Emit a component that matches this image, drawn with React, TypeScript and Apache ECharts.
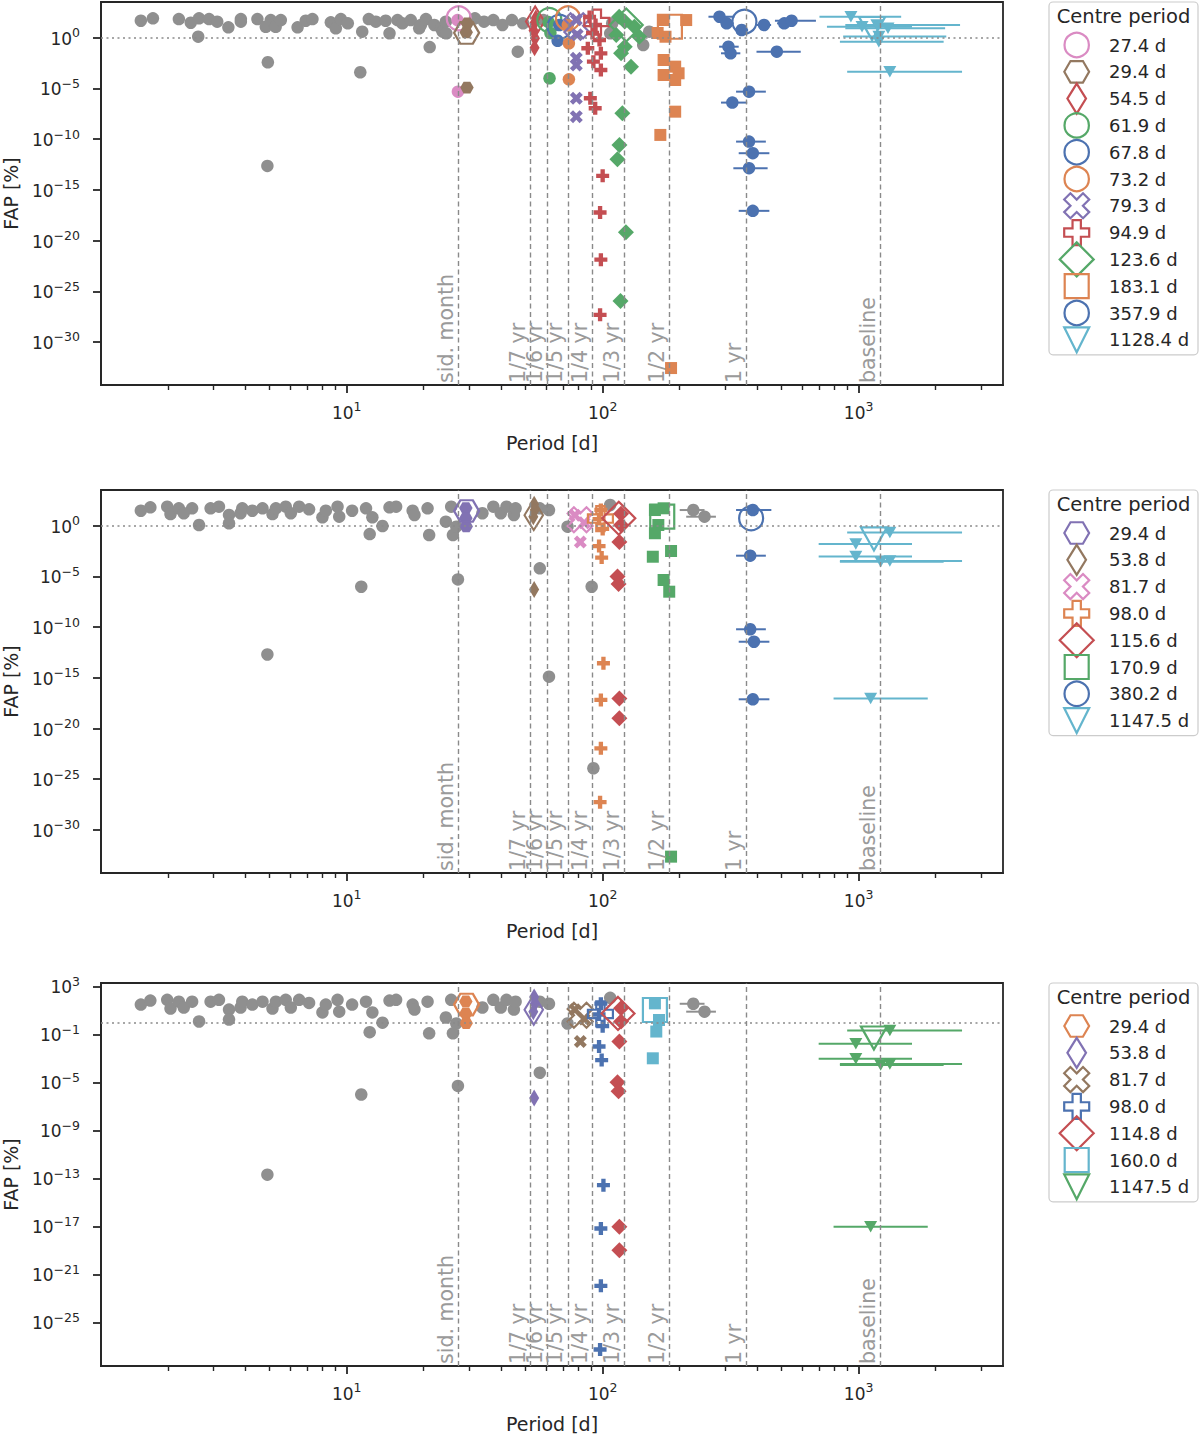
import React, { useEffect, useRef } from 'react';
import * as echarts from 'echarts';

const FONT = '"DejaVu Sans", "Liberation Sans", sans-serif';
const INK = '#262626';
const GREY = '#8f8f8f';
const C = {
  blue: '#4C72B0', orange: '#DD8452', green: '#55A868', red: '#C44E52',
  purple: '#8172B3', brown: '#937860', pink: '#DA8BC3', cyan: '#64B5CD',
};

// ---------------- axes ----------------
const X_MIN = 1.097;
const X_MAX = 3664;
const X_MAJOR = [10, 100, 1000];
const X_MINOR = [2, 3, 4, 5, 6, 7, 8, 9, 20, 30, 40, 50, 60, 70, 80, 90, 200, 300, 400, 500, 600, 700, 800, 900, 2000, 3000];
const Y_MIN = [Math.pow(10, -34.24), Math.pow(10, -34.25), Math.pow(10, -28.64)];
const Y_MAX = [Math.pow(10, 3.52), Math.pow(10, 3.52), Math.pow(10, 3.275)];
const Y_TICKS_A = [1, 1e-5, 1e-10, 1e-15, 1e-20, 1e-25, 1e-30];
const Y_TICKS_B = [1e3, 1e-1, 1e-5, 1e-9, 1e-13, 1e-17, 1e-21, 1e-25];

const VLINE_PERIODS = [27.32, 52.18, 60.88, 73.05, 91.31, 121.75, 182.63, 365.25, 1220];
const VLINE_LABELS = ['sid. month', '1/7 yr', '1/6 yr', '1/5 yr', '1/4 yr', '1/3 yr', '1/2 yr', '1 yr', 'baseline'];
const FAP_REF = 1;

// ---------------- panel 1 data ----------------
const GREY_P1 = [
  [1.57, 47], [1.75, 81], [2.21, 69], [2.46, 30], [2.65, 81], [2.90, 69], [3.12, 38], [3.45, 10.5],
  [3.86, 69], [3.86, 38], [4.48, 69], [4.83, 12], [5.05, 55], [5.28, 12], [5.53, 55], [6.43, 10.5],
  [6.92, 47], [7.35, 69], [8.67, 33], [9.07, 8.5], [9.49, 69], [10.1, 26], [11.5, 3.9], [12.2, 69],
  [13.0, 38], [14.2, 47], [14.7, 2.7], [15.8, 55], [16.5, 26], [17.8, 55], [19.2, 8.5], [19.5, 18],
  [20.4, 69], [22.0, 18], [23.4, 8.5], [23.7, 3.9], [24.4, 38], [24.5, 2.7], [31.7, 81], [34.4, 38],
  [37.4, 55], [40.6, 18], [44.2, 55], [48.9, 26], [58.7, 55], [107, 2.7], [109, 26], [144, 0.19],
  [152, 3.9], [2.63, 1.26], [4.92, 0.0038], [11.3, 3.9e-4], [4.9, 2.3e-13], [21.1, 0.12], [46.6, 0.042],
];
const P1_PERIODS = [27.4, 29.4, 54.5, 61.9, 67.8, 73.2, 79.3, 94.9, 123.6, 183.1, 357.9, 1128.4];
const P1_CENTRE_FAP = [81, 3.0, 40, 55, 12, 81, 15, 35, 18, 12, 38, 8];
const P1_PINK = [[27.1, 55], [27.2, 4.8e-6]];
const P1_BROWN = [[29.3, 3.4], [29.6, 26], [29.5, 1.2e-5]];
const P1_RED_THIN = [[54.8, 90], [54.2, 30], [53.7, 5], [54.4, 0.9], [54.2, 0.1]];
const P1_GREEN_CIRC = [[61.5, 35], [62.5, 2.9], [62.0, 1.0e-4]];
const P1_BLUE_CIRC = [[66.7, 0.5], [67.7, 18]];
const P1_ORANGE_CIRC = [[73.1, 18], [73.8, 0.28], [73.8, 7.9e-5]];
const P1_PURPLE_X = [[78.9, 60], [79.5, 2], [78.9, 9.3e-3], [78.9, 2.0e-3], [78.9, 1.07e-6], [78.9, 1.65e-8]];
const P1_RED_PLUS = [
  [88.9, 110], [93.8, 18], [91.3, 2.9], [97.2, 0.59], [87.5, 0.091], [98.4, 0.029], [92.0, 4.3e-3],
  [98.4, 6.6e-4], [89.5, 1.07e-6], [93.5, 1.1e-7], [100, 2.4e-14], [97.7, 5.8e-18], [98.4, 1.3e-22], [97.7, 4.8e-28],
];
const P1_GREEN_DIAM = [
  [116, 117], [133, 12], [122, 40], [113, 1.8], [139, 1.26], [122, 0.13], [118, 0.029], [129, 1.4e-3],
  [119.4, 3.6e-8], [116.3, 2.7e-11], [114.2, 1.05e-12], [123.3, 6.7e-20], [117.4, 1.1e-26],
];
const P1_ORANGE_SQ = [
  [173, 55], [212, 55], [164, 2.9], [176, 1.25], [173, 6.3e-3], [192, 1.4e-3], [198, 3.1e-4], [173, 2.1e-4],
  [192, 6.8e-5], [192, 5.1e-8], [168, 2.6e-10], [185, 2.7e-33],
];
// [period, FAP, period low, period high]
const P1_BLUE_BARS = [
  [286, 117, 259, 327], [305, 26, 290, 325], [349, 5.7, 330, 370], [427, 18, 400, 455], [512, 26, 480, 545],
  [547, 47, 471, 681], [310, 0.13, 285, 340], [316, 0.029, 290, 345], [479, 0.042, 399, 594],
  [373, 4.8e-6, 332, 434], [321, 4.0e-7, 290, 367], [373, 5.7e-11, 332, 434], [386, 4.1e-12, 340, 448],
  [373, 1.36e-13, 324, 441], [386, 8.5e-18, 340, 448],
];
const P1_CYAN_BARS = [
  [933, 117, 703, 1466], [1031, 12, 752, 1616], [1178, 18, 887, 2490], [1302, 8.5, 887, 2177],
  [1200, 1.3, 870, 2200], [1199, 0.40, 845, 2148], [1324, 4.5e-4, 902, 2535],
];

// ---------------- panels 2 & 3 data ----------------
const GREY_P23 = [
  [1.57, 30], [1.71, 65], [1.99, 75], [2.05, 14], [2.21, 52], [2.31, 17], [2.49, 52], [2.65, 1.17],
  [2.94, 52], [3.17, 75], [3.47, 11.4], [3.47, 1.7], [3.85, 17], [3.91, 52], [4.28, 30], [4.69, 52],
  [5.13, 14], [5.29, 52], [5.78, 75], [6.05, 17], [6.52, 75], [7.13, 41], [8.04, 6.7], [8.29, 30],
  [9.21, 75], [9.35, 7.7], [10.5, 30], [11.9, 52], [12.6, 6.7], [13.8, 0.93], [12.3, 0.15], [11.4, 9.6e-7],
  [14.7, 65], [15.6, 75], [18.1, 30], [18.4, 11.4], [20.7, 52], [21.0, 0.12], [24.4, 2.5], [25.6, 75],
  [26.0, 0.12], [26.8, 0.80], [27.2, 5e-6], [33.9, 17], [37.4, 75], [40.0, 17], [42.1, 75], [45.0, 11.4],
  [45.7, 52], [56.8, 6.3e-5], [56.8, 52], [61.7, 35], [72.9, 0.80], [107, 110], [4.9, 2e-13],
];
const GREY_BARS_P23 = [[226, 35, 200, 250], [250, 7.7, 212, 277]];
const GREY_P2_EXTRA = [[61.7, 1.3e-15], [90.6, 9.6e-7], [92.0, 1.2e-24]];

const HEX_29 = [[29.2, 55], [29.2, 5.5], [29.3, 0.85]];
const THIN_54 = [[54.0, 130], [54.3, 36], [53.6, 7.7], [54.0, 5e-7]];
const X_82 = [[77.9, 11], [84.7, 1.9], [81.8, 0.025]];
const PLUS_98 = [
  [98.4, 36], [96.8, 4.5], [100, 0.48], [96.8, 9.7e-3], [99.1, 7.1e-4], [100.7, 2.7e-14],
  [98.4, 6.6e-18], [98.4, 1.1e-22], [97.7, 5.4e-28],
];
const DIAM_115 = [[118, 15], [118, 1.17], [116.2, 0.025], [114.3, 1.0e-5], [115.4, 1.8e-6], [116.2, 9e-18], [116.2, 1e-19]];
const SQ_171 = [[160, 35], [173, 52], [165, 1.17], [160, 0.18], [157, 8.7e-4], [185, 3.2e-3], [173, 4.4e-6], [182, 3.1e-7], [185, 2.3e-33]];
const SQ_160 = [[160, 38], [166, 1.55], [162, 0.17], [157, 1.0e-3]];
const CIRC_380_BARS = [[386, 35, 332, 456], [377, 1.1e-3, 332, 434], [377, 6.1e-11, 332, 434], [390, 3.6e-12, 340, 448], [386, 7.6e-18, 340, 448]];
const TRI_1147_BARS = [
  [1324, 0.21, 902, 2535], [975, 0.016, 698, 1616], [975, 9e-4, 698, 1616],
  [1219, 2.8e-4, 845, 2148], [1324, 3.3e-4, 845, 2535], [1114, 9e-18, 798, 1862],
];
const P2_PERIODS = [29.4, 53.8, 81.7, 98.0, 115.6, 170.9, 380.2, 1147.5];
const P2_CENTRE_FAP = [28, 11, 3.9, 5, 5.5, 7.7, 5.4, 0.05];
const P3_PERIODS = [29.4, 53.8, 81.7, 98.0, 114.8, 160.0, 1147.5];
const P3_CENTRE_FAP = [30, 11, 3.9, 5, 5.5, 10.6, 0.05];

// ---------------- marker shapes ----------------
const X_PATH = 'path://M1.474 0.059L1.941 0.526L1.467 1L1.941 1.474L1.474 1.941L1 1.467L0.526 1.941L0.059 1.474L0.533 1L0.059 0.526L0.526 0.059L1 0.533Z';
const SHAPES: any = {
  circle: { symbol: 'circle', small: 12.5, big: 24 },
  hexagon: { symbol: 'path://M0 0.866L0.5 0L1.5 0L2 0.866L1.5 1.732L0.5 1.732Z', small: [13.5, 11.7], big: [25, 21.6] },
  thin: { symbol: 'diamond', small: [10, 17], big: [18.5, 30] },
  cross: { symbol: X_PATH, small: 13, big: 25 },
  plus: { symbol: 'path://M1 0L2 0L2 1L3 1L3 2L2 2L2 3L1 3L1 2L0 2L0 1L1 1Z', small: 13, big: 25 },
  diamond: { symbol: 'diamond', small: 16, big: 33 },
  square: { symbol: 'rect', small: 12, big: 24 },
  tri: { symbol: 'triangle', small: [13, 11.5], big: [26, 23], rotate: 180 },
};
const UNIT: any = {
  hexagon: { pts: [[-1, 0], [-0.5, -0.866], [0.5, -0.866], [1, 0], [0.5, 0.866], [-0.5, 0.866]], s: [12.4, 12.4] },
  thin: { pts: [[0, -1], [1, 0], [0, 1], [-1, 0]], s: [9.3, 15] },
  diamond: { pts: [[0, -1], [1, 0], [0, 1], [-1, 0]], s: [17, 17] },
  cross: { pts: [[0.474, -0.941], [0.941, -0.474], [0.467, 0], [0.941, 0.474], [0.474, 0.941], [0, 0.467], [-0.474, 0.941], [-0.941, 0.474], [-0.467, 0], [-0.941, -0.474], [-0.474, -0.941], [0, -0.467]], s: [13.3, 13.3] },
  plus: { pts: [[-1 / 3, -1], [1 / 3, -1], [1 / 3, -1 / 3], [1, -1 / 3], [1, 1 / 3], [1 / 3, 1 / 3], [1 / 3, 1], [-1 / 3, 1], [-1 / 3, 1 / 3], [-1, 1 / 3], [-1, -1 / 3], [-1 / 3, -1 / 3]], s: [12.5, 12.5] },
  tri: { pts: [[-1, -1], [1, -1], [0, 1]], s: [12.5, 12.5] },
};

const P1_SHAPES = ['circle', 'hexagon', 'thin', 'circle', 'circle', 'circle', 'cross', 'plus', 'diamond', 'square', 'circle', 'tri'];
const P1_COLORS = [C.pink, C.brown, C.red, C.green, C.blue, C.orange, C.purple, C.red, C.green, C.orange, C.blue, C.cyan];
const P1_POINTS: any[] = [P1_PINK, P1_BROWN, P1_RED_THIN, P1_GREEN_CIRC, P1_BLUE_CIRC, P1_ORANGE_CIRC, P1_PURPLE_X, P1_RED_PLUS, P1_GREEN_DIAM, P1_ORANGE_SQ, null, null];
const P1_BARS: any[] = [null, null, null, null, null, null, null, null, null, null, P1_BLUE_BARS, P1_CYAN_BARS];

const P2_SHAPES = ['hexagon', 'thin', 'cross', 'plus', 'diamond', 'square', 'circle', 'tri'];
const P2_COLORS = [C.purple, C.brown, C.pink, C.orange, C.red, C.green, C.blue, C.cyan];
const P2_POINTS: any[] = [HEX_29, THIN_54, X_82, PLUS_98, DIAM_115, SQ_171, null, null];
const P2_BARS: any[] = [null, null, null, null, null, null, CIRC_380_BARS, TRI_1147_BARS];

const P3_SHAPES = ['hexagon', 'thin', 'cross', 'plus', 'diamond', 'square', 'tri'];
const P3_COLORS = [C.orange, C.purple, C.brown, C.blue, C.red, C.cyan, C.green];
const P3_POINTS: any[] = [HEX_29, THIN_54, X_82, PLUS_98, DIAM_115, SQ_160, null];
const P3_BARS: any[] = [null, null, null, null, null, null, TRI_1147_BARS];

function buildGroups(periods: number[], faps: number[], shapes: string[], colors: string[], points: any[], bars: any[]) {
  return periods.map((p, k) => ({ period: p, centreFap: faps[k], shape: shapes[k], color: colors[k], points: points[k], bars: bars[k] }));
}

// ---------------- layout ----------------
const GRID_LEFT = 101;
const GRID_W = 902;
const GRID_H = 383;
const GRID_TOPS = [2, 490, 983];

const fmtPow = (v: number) => {
  const e = Math.round(Math.log10(v));
  const s = e < 0 ? '\u2212' + -e : String(e);
  return `{b|10}{s|${s}}`;
};
const RICH = {
  b: { fontSize: 17, fontFamily: FONT, color: INK, verticalAlign: 'bottom', lineHeight: 19 },
  s: { fontSize: 12.5, fontFamily: FONT, color: INK, verticalAlign: 'bottom', lineHeight: 13, padding: [0, 0, 8, 0] },
};

function scatter(xi: number, yi: number, data: any[], shape: string, color: string, hollow: boolean, z: number) {
  const s = SHAPES[shape];
  return {
    type: 'scatter', xAxisIndex: xi, yAxisIndex: yi, data, z,
    symbol: s.symbol, symbolSize: hollow ? s.big : s.small, symbolRotate: s.rotate || 0,
    itemStyle: hollow
      ? { color: 'rgba(255,255,255,0)', borderColor: color, borderWidth: 2.2, opacity: 1 }
      : { color, opacity: 1, borderWidth: 0 },
    silent: true, emphasis: { disabled: true }, animation: false, clip: false,
  };
}

function errBars(xi: number, yi: number, data: any[], color: string, z: number) {
  return {
    type: 'custom', xAxisIndex: xi, yAxisIndex: yi, data, z, silent: true, animation: false,
    encode: { x: 0, y: 1 },
    renderItem: (params: any, api: any) => {
      const y = api.value(1);
      const a = api.coord([api.value(2), y]);
      const b = api.coord([api.value(3), y]);
      return { type: 'line', shape: { x1: a[0], y1: a[1], x2: b[0], y2: b[1] }, style: { stroke: color, lineWidth: 2 } };
    },
  };
}

const MARK_LINE = {
  silent: true,
  symbol: ['none', 'none'],
  animation: false,
  lineStyle: { type: [5, 3.5], color: '#8a8a8a', width: 1.4 },
  label: { show: true, formatter: '{b}', position: 'insideStartTop', color: '#9a9a9a', fontSize: 20.5, fontFamily: FONT, distance: 2 },
  data: [
    ...VLINE_PERIODS.map((p, k) => ({ xAxis: p, name: VLINE_LABELS[k] })),
    { yAxis: FAP_REF, name: '', lineStyle: { type: [2, 3.5], color: '#8a8a8a', width: 1.5 }, label: { show: false } },
  ],
};

function panelSeries(i: number, grey: any[], greyBars: any[] | null, groups: any[]) {
  const xi = i * 2;
  const yi = i;
  const out: any[] = [];
  out.push({ type: 'scatter', xAxisIndex: xi, yAxisIndex: yi, data: [], z: 1, silent: true, markLine: MARK_LINE });
  out.push(scatter(xi, yi, grey, 'circle', GREY, false, 2));
  if (greyBars) {
    out.push(errBars(xi, yi, greyBars, GREY, 2));
    out.push(scatter(xi, yi, greyBars.map((b: number[]) => [b[0], b[1]]), 'circle', GREY, false, 2));
  }
  groups.forEach((g) => {
    if (g.bars) {
      out.push(errBars(xi, yi, g.bars, g.color, 3));
      out.push(scatter(xi, yi, g.bars.map((b: number[]) => [b[0], b[1]]), g.shape, g.color, false, 3));
    }
    if (g.points) out.push(scatter(xi, yi, g.points, g.shape, g.color, false, 3));
    out.push(scatter(xi, yi, [[g.period, g.centreFap]], g.shape, g.color, true, 3));
  });
  return out;
}

function legendMarker(shape: string, color: string, cx: number, cy: number) {
  const style = { fill: 'none', stroke: color, lineWidth: 2.2 };
  if (shape === 'circle') return { type: 'circle', shape: { cx, cy, r: 12.2 }, style, z: 101, silent: true };
  if (shape === 'square') return { type: 'rect', shape: { x: cx - 12, y: cy - 12, width: 24, height: 24 }, style, z: 101, silent: true };
  const u = UNIT[shape];
  return { type: 'polygon', shape: { points: u.pts.map((q: number[]) => [cx + q[0] * u.s[0], cy + q[1] * u.s[1]]) }, style, z: 101, silent: true };
}

function legendBox(top: number, title: string, groups: any[]) {
  const n = groups.length;
  const h = 58 + (n - 1) * 26.8;
  const els: any[] = [
    { type: 'rect', shape: { x: 1049, y: top, width: 149, height: h, r: 4 }, style: { fill: '#ffffff', stroke: '#cccccc', lineWidth: 1.2 }, z: 100, silent: true },
    {
      type: 'text', x: 1123.5, y: top + 14, z: 101, silent: true,
      style: { text: title, fill: INK, fontSize: 19.5, fontFamily: FONT, align: 'center', verticalAlign: 'middle', textAlign: 'center', textVerticalAlign: 'middle' },
    },
  ];
  groups.forEach((g, k) => {
    const cy = top + 43 + k * 26.8;
    els.push(legendMarker(g.shape, g.color, 1076.7, cy));
    els.push({
      type: 'text', x: 1109, y: cy, z: 101, silent: true,
      style: { text: `${g.period.toFixed(1)} d`, fill: INK, fontSize: 18, fontFamily: FONT, align: 'left', verticalAlign: 'middle', textAlign: 'left', textVerticalAlign: 'middle' },
    });
  });
  return els;
}

export default function App() {
  const ref = useRef<HTMLDivElement>(null);
  useEffect(() => {
    if (!ref.current) return;
    const chart = echarts.init(ref.current, undefined, { renderer: 'svg' });
    const g1 = buildGroups(P1_PERIODS, P1_CENTRE_FAP, P1_SHAPES, P1_COLORS, P1_POINTS, P1_BARS);
    const g2 = buildGroups(P2_PERIODS, P2_CENTRE_FAP, P2_SHAPES, P2_COLORS, P2_POINTS, P2_BARS);
    const g3 = buildGroups(P3_PERIODS, P3_CENTRE_FAP, P3_SHAPES, P3_COLORS, P3_POINTS, P3_BARS);
    const yTicks = [Y_TICKS_A, Y_TICKS_A, Y_TICKS_B];

    const xAxes: any[] = [];
    [0, 1, 2].forEach((i) => {
      xAxes.push({
        type: 'log', logBase: 10, gridIndex: i, min: X_MIN, max: X_MAX, position: 'bottom',
        axisLine: { show: true, lineStyle: { color: INK, width: 1.8 } },
        axisTick: { show: true, length: 8, lineStyle: { color: INK, width: 1.8 }, customValues: X_MAJOR },
        axisLabel: { customValues: X_MAJOR, formatter: fmtPow, rich: RICH, margin: 17 },
        splitLine: { show: false }, minorTick: { show: false }, minorSplitLine: { show: false },
        name: 'Period [d]', nameLocation: 'middle', nameGap: 48,
        nameTextStyle: { fontSize: 19, fontFamily: FONT, color: INK },
      });
      xAxes.push({
        type: 'log', logBase: 10, gridIndex: i, min: X_MIN, max: X_MAX, position: 'bottom', offset: 0,
        axisLine: { show: false },
        axisTick: { show: true, length: 5, lineStyle: { color: INK, width: 1.4 }, customValues: X_MINOR },
        axisLabel: { show: false }, splitLine: { show: false },
      });
    });
    const yAxes = [0, 1, 2].map((i) => ({
      type: 'log', logBase: 10, gridIndex: i, min: Y_MIN[i], max: Y_MAX[i],
      axisLine: { show: true, lineStyle: { color: INK, width: 1.8 } },
      axisTick: { show: true, length: 8, lineStyle: { color: INK, width: 1.8 }, customValues: yTicks[i] },
      axisLabel: { customValues: yTicks[i], formatter: fmtPow, rich: RICH, margin: 21 },
      splitLine: { show: false }, minorTick: { show: false }, minorSplitLine: { show: false },
      name: 'FAP [%]', nameLocation: 'middle', nameGap: 81,
      nameTextStyle: { fontSize: 19, fontFamily: FONT, color: INK },
    }));

    const option: any = {
      animation: false,
      textStyle: { fontFamily: FONT },
      grid: GRID_TOPS.map((t) => ({
        left: GRID_LEFT, top: t, width: GRID_W, height: GRID_H, show: true, borderColor: INK, borderWidth: 1.8,
        backgroundColor: 'transparent', containLabel: false, outerBoundsMode: 'none',
      })),
      xAxis: xAxes,
      yAxis: yAxes,
      series: [
        ...panelSeries(0, GREY_P1, null, g1),
        ...panelSeries(1, [...GREY_P23, ...GREY_P2_EXTRA], GREY_BARS_P23, g2),
        ...panelSeries(2, GREY_P23, GREY_BARS_P23, g3),
      ],
      graphic: {
        elements: [
          ...legendBox(GRID_TOPS[0], 'Centre period', g1),
          ...legendBox(GRID_TOPS[1], 'Centre period', g2),
          ...legendBox(GRID_TOPS[2], 'Centre period', g3),
        ],
      },
    };
    chart.setOption(option);
    return () => chart.dispose();
  }, []);
  return <div ref={ref} style={{ position: 'absolute', left: 0, top: 0, width: 1200, height: 1434, background: '#fff' }} />;
}
